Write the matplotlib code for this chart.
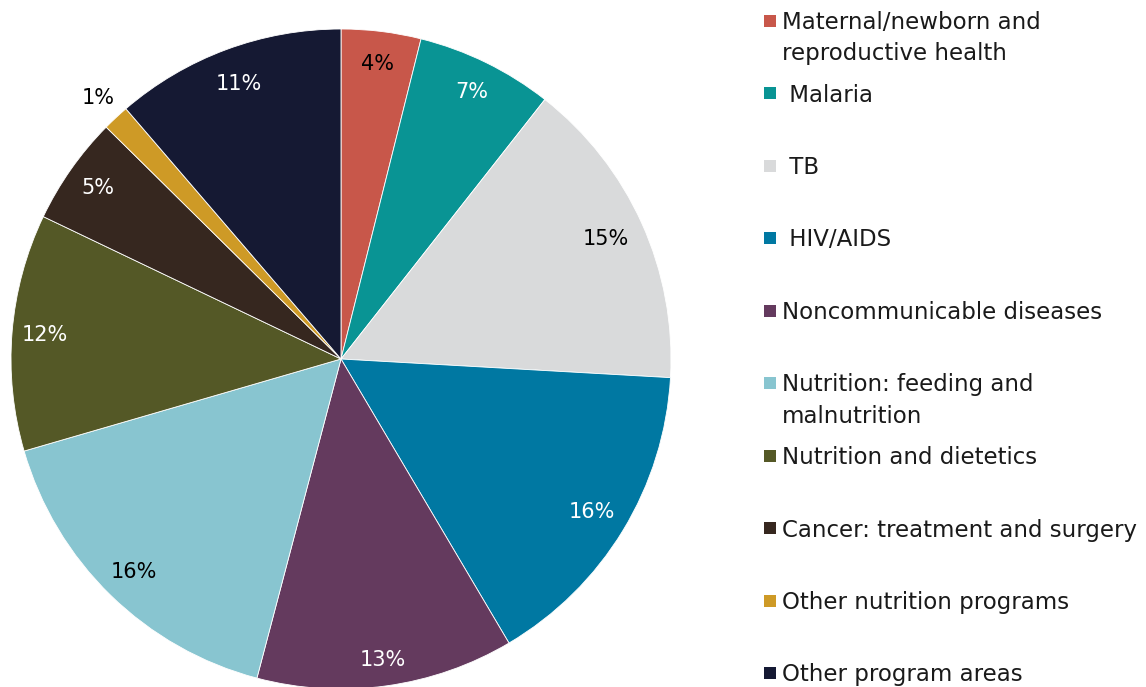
import matplotlib
matplotlib.use("Agg")
import matplotlib.pyplot as plt
from matplotlib.patches import Rectangle
import numpy as np

plt.rcParams['font.family'] = ['DejaVu Sans']

categories = ["Maternal/newborn and\nreproductive health", " Malaria", " TB", " HIV/AIDS",
              "Noncommunicable diseases", "Nutrition: feeding and\nmalnutrition",
              "Nutrition and dietetics", "Cancer: treatment and surgery",
              "Other nutrition programs", "Other program areas"]
values = [3.9, 6.7, 15.3, 15.6, 12.6, 16.4, 11.6, 5.3, 1.3, 11.3]
pct_labels = ["4%", "7%", "15%", "16%", "13%", "16%", "12%", "5%", "1%", "11%"]
colors = ["#C8574A", "#099494", "#D9DADB", "#0078A2", "#643A5E",
          "#88C5D0", "#545826", "#36271F", "#CE9A26", "#151933"]
label_colors = ["black", "white", "black", "white", "white", "black", "white", "white", "black", "white"]
label_dist = [0.9, 0.9, 0.88, 0.89, 0.92, 0.9, 0.9, 0.9, 1.08, 0.89]

W, H = 1146, 687
fig = plt.figure(figsize=(W / 100, H / 100), dpi=100)
ax = fig.add_axes([0, 0, 1, 1])
cx, cy, R = 341, H - 359, 330
wedges, _ = ax.pie(values, colors=colors, startangle=90, counterclock=False,
                   center=(cx, cy), radius=R,
                   wedgeprops=dict(linewidth=0.6, edgecolor="white"))
for w, lab, c, d in zip(wedges, pct_labels, label_colors, label_dist):
    ang = np.deg2rad((w.theta1 + w.theta2) / 2)
    ax.text(cx + d * R * np.cos(ang), cy + d * R * np.sin(ang), lab,
            ha="center", va="center", color=c, fontsize=15)
ax.set_aspect("auto")
ax.set_xlim(0, W)
ax.set_ylim(0, H)
ax.axis("off")

# legend
y0, step = 20.5, 72.5
for i, (lab, col) in enumerate(zip(categories, colors)):
    ym = y0 + i * step
    ax.add_patch(Rectangle((764, H - ym - 6), 12, 12, facecolor=col, edgecolor="none"))
    ax.text(782, H - ym + 9.5, lab, ha="left", va="top", fontsize=16.5,
            color="#1a1a1a", linespacing=1.45)

fig.savefig("out.png", dpi=100)
